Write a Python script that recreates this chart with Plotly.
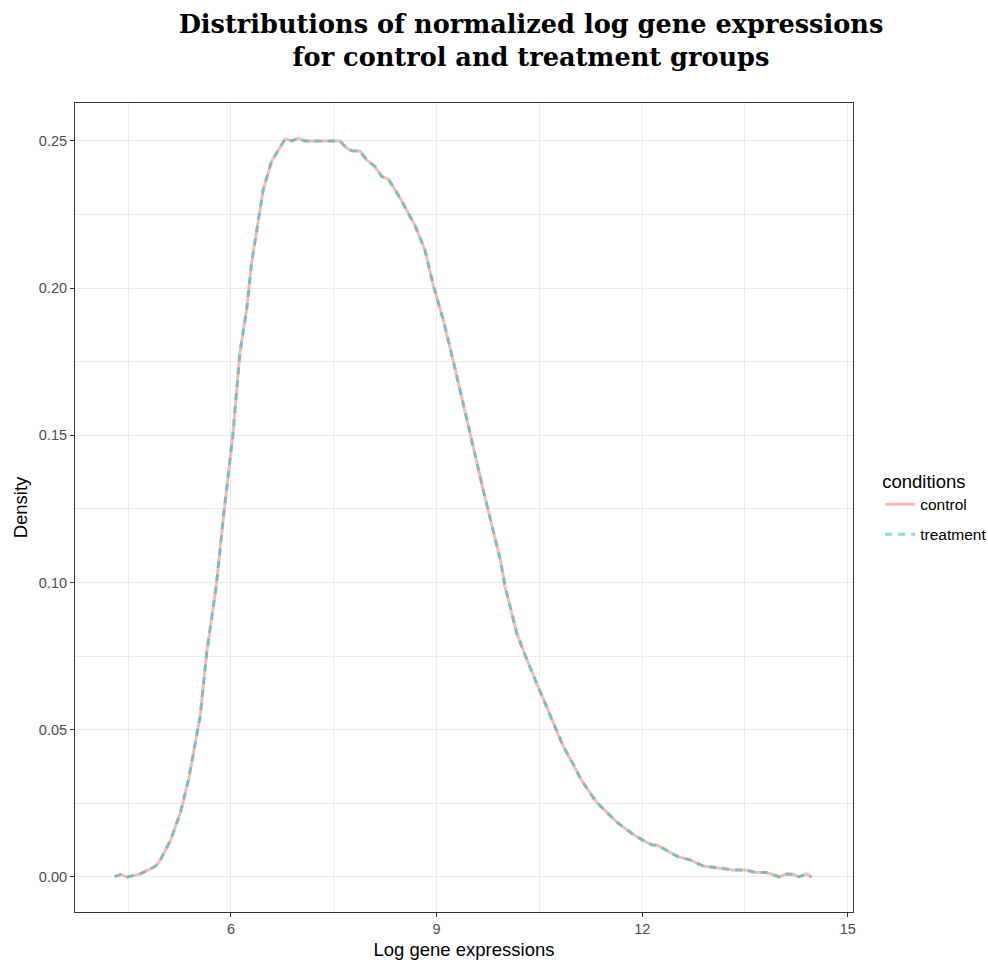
import plotly.graph_objects as go

# Data (kernel density estimates)
log_expr = [4.30, 4.39, 4.49, 4.67, 4.89, 4.96, 5.11, 5.26, 5.38, 5.55, 5.645, 5.79, 5.89,
            6.03, 6.13, 6.23, 6.30, 6.47, 6.59, 6.79, 6.89, 6.98, 7.08, 7.59, 7.69, 7.76,
            7.88, 7.98, 8.10, 8.20, 8.30, 8.47, 8.69, 8.83, 8.95, 9.10, 9.24, 9.49, 9.68,
            9.93, 10.00, 10.17, 10.29, 10.44, 10.75, 10.85, 11.00, 11.11, 11.33, 11.62,
            11.85, 12.00, 12.14, 12.22, 12.52, 12.70, 12.89, 13.18, 13.33, 13.50, 13.66,
            13.81, 14.00, 14.10, 14.21, 14.28, 14.40, 14.47]
control_density = [0.0001, 0.0008, 0.0000, 0.0010, 0.0035, 0.0054, 0.0120, 0.0217, 0.0330,
                   0.0545, 0.0760, 0.0998, 0.1224, 0.1507, 0.1780, 0.1930, 0.2085, 0.2334,
                   0.2430, 0.2507, 0.2500, 0.2509, 0.2500, 0.2500, 0.2475, 0.2467, 0.2466,
                   0.2436, 0.2413, 0.2379, 0.2370, 0.2305, 0.2210, 0.2130, 0.2011, 0.1890,
                   0.1756, 0.1500, 0.1315, 0.1077, 0.0986, 0.0828, 0.0754, 0.0669, 0.0494,
                   0.0443, 0.0380, 0.0330, 0.0255, 0.0188, 0.0148, 0.0126, 0.0109, 0.0108,
                   0.0069, 0.0058, 0.0037, 0.0030, 0.0024, 0.0024, 0.0015, 0.0015, 0.0000,
                   0.0010, 0.0009, 0.0000, 0.0010, 0.0000]
treatment_density = list(control_density)

x_ticks = [6, 9, 12, 15]
y_ticks = [0.00, 0.05, 0.10, 0.15, 0.20, 0.25]
y_tick_labels = ["0.00", "0.05", "0.10", "0.15", "0.20", "0.25"]

fig = go.Figure()
fig.add_trace(go.Scatter(
    x=log_expr, y=control_density, mode="lines", name="control", legendgroup="control",
    line=dict(color="rgba(248,118,109,0.5)", width=3)))
fig.add_trace(go.Scatter(
    x=log_expr, y=treatment_density, mode="lines", name="treatment", legendgroup="treatment",
    line=dict(color="rgba(0,191,196,0.5)", width=3, dash="7px,6px")))

sans = "Liberation Sans, Arial, sans-serif"

fig.update_layout(
    width=988, height=962,
    margin=dict(l=75, r=135, t=103, b=50, autoexpand=False),
    paper_bgcolor="white", plot_bgcolor="white",
    font=dict(family=sans, color="black"),
    title=dict(
        text="<b>Distributions of normalized log gene expressions<br>for control and treatment groups</b>",
        font=dict(family="DejaVu Serif, serif", size=25.6, color="black"),
        x=531 / 988, xanchor="center", xref="container",
        y=1 - 33 / 962, yanchor="middle", yref="container"),
    legend=dict(
        title=dict(text="conditions", font=dict(size=18.5, color="black")),
        font=dict(size=15.5, color="black"),
        x=1.035, xanchor="left", y=0.500, yanchor="middle",
        bgcolor="rgba(0,0,0,0)", itemwidth=30, tracegroupgap=7),
    xaxis=dict(
        range=[3.724, 15.076], tickmode="array", tickvals=x_ticks,
        ticktext=[str(t) for t in x_ticks], automargin=False,
        showgrid=True, gridcolor="#EBEBEB", gridwidth=1.1,
        minor=dict(tickmode="array", tickvals=[4.5, 7.5, 10.5, 13.5], showgrid=True,
                   gridcolor="#EBEBEB", gridwidth=0.55, ticks=""),
        zeroline=False, showline=True, linecolor="#333333", linewidth=1, mirror=True,
        ticks="outside", ticklen=4, tickcolor="#333333", tickwidth=1,
        tickfont=dict(size=14.5, color="#4D4D4D", family=sans),
        title=dict(text="Log gene expressions", font=dict(size=18.5, color="black"), standoff=6)),
    yaxis=dict(
        range=[-0.0119, 0.2629], tickmode="array", tickvals=y_ticks, ticktext=y_tick_labels,
        automargin=False,
        showgrid=True, gridcolor="#EBEBEB", gridwidth=1.1,
        minor=dict(tickmode="array", tickvals=[0.025, 0.075, 0.125, 0.175, 0.225],
                   showgrid=True, gridcolor="#EBEBEB", gridwidth=0.55, ticks=""),
        zeroline=False, showline=True, linecolor="#333333", linewidth=1, mirror=True,
        ticks="outside", ticklen=4, tickcolor="#333333", tickwidth=1,
        tickfont=dict(size=14.5, color="#4D4D4D", family=sans),
        title=dict(text="Density", font=dict(size=18.5, color="black"), standoff=6)),
)

fig.write_html("out.html")
